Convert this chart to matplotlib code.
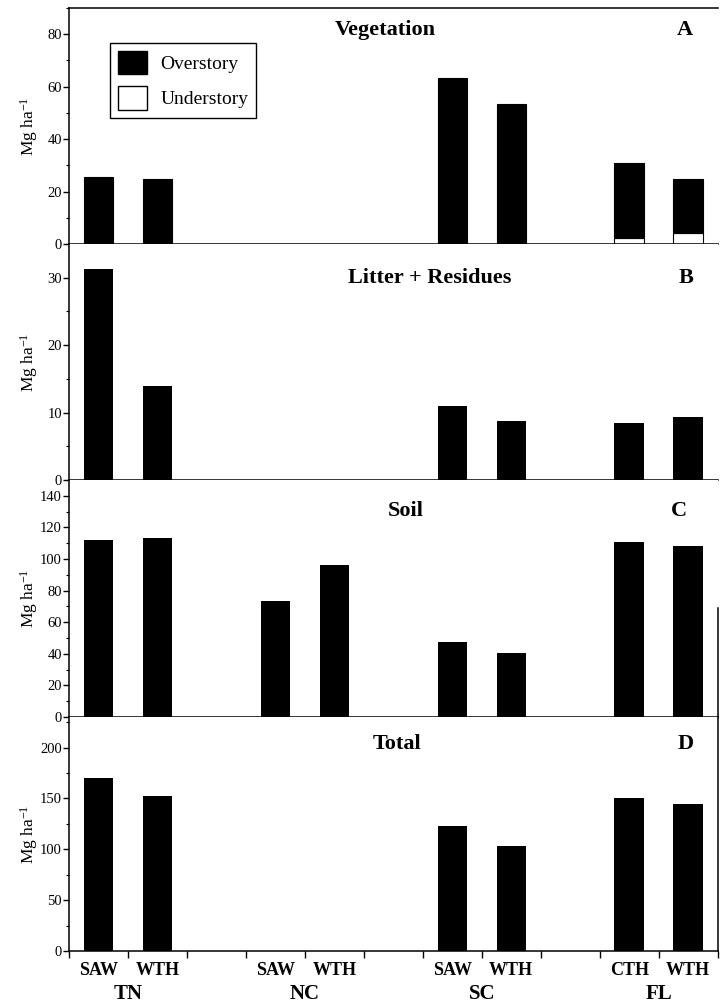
import numpy as np
import matplotlib
matplotlib.use('Agg')
import matplotlib.pyplot as plt
from matplotlib.ticker import MultipleLocator
from matplotlib.patches import Patch

plt.rcParams['font.family'] = ['Liberation Serif', 'DejaVu Serif']
plt.rcParams['mathtext.fontset'] = 'custom'
plt.rcParams['mathtext.rm'] = 'Liberation Serif'
plt.rcParams['mathtext.default'] = 'regular'

# sites and harvest treatments
sites = ['TN', 'NC', 'SC', 'FL']
treatments = [['SAW', 'WTH'], ['SAW', 'WTH'], ['SAW', 'WTH'], ['CTH', 'WTH']]

# Mg ha-1, order: TN SAW, TN WTH, NC SAW, NC WTH, SC SAW, SC WTH, FL CTH, FL WTH
veg_over = [25.5, 24.8, np.nan, np.nan, 63.3, 53.3, 28.5, 20.6]
veg_under = [np.nan, np.nan, np.nan, np.nan, np.nan, np.nan, 2.3, 4.2]
litter = [31.3, 13.9, np.nan, np.nan, 10.9, 8.7, 8.4, 9.3]
soil = [111.7, 113.0, 73.3, 96.2, 47.4, 40.7, 111.0, 108.5]
total = [170.0, 152.6, np.nan, np.nan, 122.7, 103.3, 150.9, 144.4]

xpos = [3 * g + t + 0.5 for g in range(len(sites)) for t in range(2)]
xlabels = [lab for pair in treatments for lab in pair]

fig = plt.figure(figsize=(7.2, 10.05), dpi=100)
left, width = 0.0958, 0.901
axA = fig.add_axes([left, 0.7572, width, 0.2348])
axB = fig.add_axes([left, 0.5224, width, 0.2348])
axC = fig.add_axes([left, 0.2866, width, 0.2358])
axD = fig.add_axes([left, 0.0537, width, 0.2328])

bw = 0.5


def style(ax, ymax, major, minor):
    ax.set_xlim(0, 11)
    ax.set_ylim(0, ymax)
    ax.yaxis.set_major_locator(MultipleLocator(major))
    ax.yaxis.set_minor_locator(MultipleLocator(minor))
    ax.tick_params(axis='y', which='major', direction='out', length=4, width=1, labelsize=10.5, pad=1)
    ax.tick_params(axis='y', which='minor', direction='out', length=2.5, width=0.8)
    ax.set_ylabel('Mg ha$^{-1}$', fontsize=12.5, labelpad=2)
    ax.yaxis.set_label_coords(-0.044, 0.5)
    for s in ax.spines.values():
        s.set_linewidth(1.1)
    ax.spines['right'].set_visible(False)
    ax.spines['top'].set_visible(False)
    ax.set_xticks([])


def fill(vals):
    return [0 if np.isnan(v) else v for v in vals]


# A - vegetation
style(axA, 90, 20, 10)
axA.spines['top'].set_visible(True)
under = fill(veg_under)
axA.bar(xpos, veg_under, bw, color='white', edgecolor='black', linewidth=0.8)
axA.bar(xpos, veg_over, bw, bottom=under, color='black', edgecolor='black', linewidth=0.8)
axA.text(0.487, 0.905, 'Vegetation', transform=axA.transAxes, ha='center', va='center',
         fontsize=16, fontweight='bold')
axA.text(0.949, 0.905, 'A', transform=axA.transAxes, ha='center', va='center',
         fontsize=16, fontweight='bold')
handles = [Patch(facecolor='black', edgecolor='black', label='Overstory'),
           Patch(facecolor='white', edgecolor='black', label='Understory')]
axA.legend(handles=handles, loc='upper left', bbox_to_anchor=(0.063, 0.852), fontsize=14,
           frameon=True, fancybox=False, edgecolor='black', framealpha=1,
           handlelength=1.5, handleheight=1.5, borderpad=0.4, labelspacing=0.6,
           handletextpad=0.7, borderaxespad=0)

# B - litter + residues
style(axB, 35, 10, 5)
axB.bar(xpos, litter, bw, color='black')
axB.text(0.556, 0.857, 'Litter + Residues', transform=axB.transAxes, ha='center', va='center',
         fontsize=16, fontweight='bold')
axB.text(0.952, 0.857, 'B', transform=axB.transAxes, ha='center', va='center',
         fontsize=16, fontweight='bold')

# C - soil
style(axC, 150, 20, 10)
axC.spines['right'].set_visible(True)
axC.spines['right'].set_bounds(0, 69)
axC.bar(xpos, soil, bw, color='black')
axC.text(0.519, 0.869, 'Soil', transform=axC.transAxes, ha='center', va='center',
         fontsize=16, fontweight='bold')
axC.text(0.941, 0.869, 'C', transform=axC.transAxes, ha='center', va='center',
         fontsize=16, fontweight='bold')

# D - total
style(axD, 230, 50, 25)
axD.spines['right'].set_visible(True)
axD.bar(xpos, total, bw, color='black')
axD.text(0.505, 0.884, 'Total', transform=axD.transAxes, ha='center', va='center',
         fontsize=16, fontweight='bold')
axD.text(0.95, 0.884, 'D', transform=axD.transAxes, ha='center', va='center',
         fontsize=16, fontweight='bold')
axD.set_xticks(range(12))
axD.set_xticklabels([])
axD.tick_params(axis='x', direction='out', length=5, width=1)
for x, lab in zip(xpos, xlabels):
    axD.text(x, -0.082, lab, transform=axD.get_xaxis_transform(), ha='center', va='center',
             fontsize=13, fontweight='bold')
for g, site in enumerate(sites):
    axD.text(3 * g + 1, -0.207, site, transform=axD.get_xaxis_transform(), ha='center',
             va='baseline', fontsize=15, fontweight='bold')

fig.savefig('out.png', dpi=100)
